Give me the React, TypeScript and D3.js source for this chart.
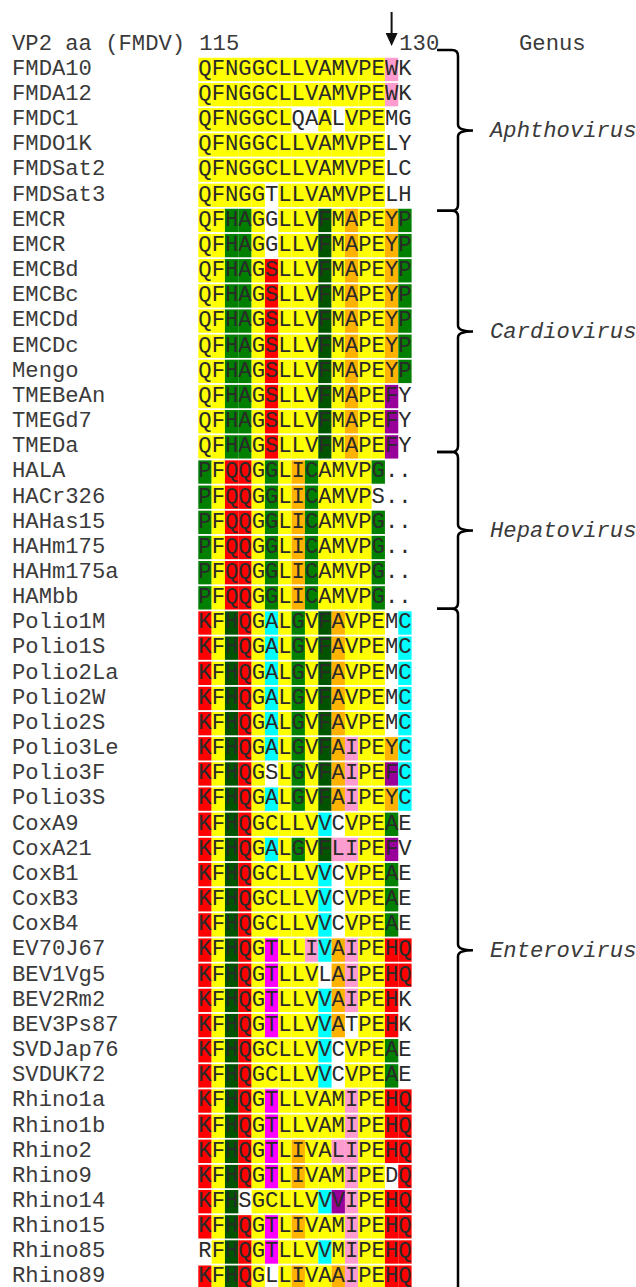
import { useEffect, useRef } from 'react';
import * as d3 from 'd3';

// strain names, top to bottom
const strains = [
  'FMDA10', 'FMDA12', 'FMDC1', 'FMDO1K', 'FMDSat2', 'FMDSat3',
  'EMCR', 'EMCR', 'EMCBd', 'EMCBc', 'EMCDd', 'EMCDc', 'Mengo', 'TMEBeAn', 'TMEGd7', 'TMEDa',
  'HALA', 'HACr326', 'HAHas15', 'HAHm175', 'HAHm175a', 'HAMbb',
  'Polio1M', 'Polio1S', 'Polio2La', 'Polio2W', 'Polio2S', 'Polio3Le', 'Polio3F', 'Polio3S',
  'CoxA9', 'CoxA21', 'CoxB1', 'CoxB3', 'CoxB4',
  'EV70J67', 'BEV1Vg5', 'BEV2Rm2', 'BEV3Ps87', 'SVDJap76', 'SVDUK72',
  'Rhino1a', 'Rhino1b', 'Rhino2', 'Rhino9', 'Rhino14', 'Rhino15', 'Rhino85', 'Rhino89'
];

// VP2 residues 115-130
const sequences = [
  'QFNGGCLLVAMVPEWK', 'QFNGGCLLVAMVPEWK', 'QFNGGCLQAALVPEMG', 'QFNGGCLLVAMVPELY', 'QFNGGCLLVAMVPELC', 'QFNGGTLLVAMVPELH',
  'QFHAGGLLVFMAPEYP', 'QFHAGGLLVFMAPEYP', 'QFHAGSLLVFMAPEYP', 'QFHAGSLLVFMAPEYP', 'QFHAGSLLVFMAPEYP', 'QFHAGSLLVFMAPEYP',
  'QFHAGSLLVFMAPEYP', 'QFHAGSLLVFMAPEFY', 'QFHAGSLLVFMAPEFY', 'QFHAGSLLVFMAPEFY',
  'PFQQGGLICAMVPG..', 'PFQQGGLICAMVPS..', 'PFQQGGLICAMVPG..', 'PFQQGGLICAMVPG..', 'PFQQGGLICAMVPG..', 'PFQQGGLICAMVPG..',
  'KFHQGALGVFAVPEMC', 'KFHQGALGVFAVPEMC', 'KFHQGALGVFAVPEMC', 'KFHQGALGVFAVPEMC', 'KFHQGALGVFAVPEMC',
  'KFHQGALGVFAIPEYC', 'KFHQGSLGVFAIPEFC', 'KFHQGALGVFAIPEYC',
  'KFHQGCLLVVCVPEAE', 'KFHQGALGVFLIPEFV', 'KFHQGCLLVVCVPEAE', 'KFHQGCLLVVCVPEAE', 'KFHQGCLLVVCVPEAE',
  'KFHQGTLLIVAIPEHQ', 'KFHQGTLLVLAIPEHQ', 'KFHQGTLLVVAIPEHK', 'KFHQGTLLVVATPEHK', 'KFHQGCLLVVCVPEAE', 'KFHQGCLLVVCVPEAE',
  'KFHQGTLLVAMIPEHQ', 'KFHQGTLLVAMIPEHQ', 'KFHQGTLIVALIPEHQ', 'KFHQGTLIVAMIPEDQ', 'KFHSGCLLVVVIPEHQ',
  'KFHQGTLIVAMIPEHQ', 'RFHQGTLLVVMIPEHQ', 'KFHQGLLIVAAIPEHQ'
];

// shading code per residue (- = unshaded)
const shading = [
  'YYYYYYYYYYYYYYP-', 'YYYYYYYYYYYYYYP-', 'YYYYYYY--Y-YYY--', 'YYYYYYYYYYYYYY--', 'YYYYYYYYYYYYYY--', 'YYYYY-YYYYYYYY--',
  'YYggY-YYYdYOYYOg', 'YYggY-YYYdYOYYOg', 'YYggYRYYYdYOYYOg', 'YYggYRYYYdYOYYOg', 'YYggYRYYYdYOYYOg', 'YYggYRYYYdYOYYOg',
  'YYggYRYYYdYOYYOg', 'YYggYRYYYdYOYYV-', 'YYggYRYYYdYOYYV-', 'YYggYRYYYdYOYYV-',
  'gYRRYgYOgYYYYg--', 'gYRRYgYOgYYYY---', 'gYRRYgYOgYYYYg--', 'gYRRYgYOgYYYYg--', 'gYRRYgYOgYYYYg--', 'gYRRYgYOgYYYYg--',
  'RYdRYCYgYdOYYY-C', 'RYdRYCYgYdOYYY-C', 'RYdRYCYgYdOYYY-C', 'RYdRYCYgYdOYYY-C', 'RYdRYCYgYdOYYY-C',
  'RYdRYCYgYdOPYYOC', 'RYdRY-YgYdOPYYVC', 'RYdRYCYgYdOPYYOC',
  'RYdRYYYYYC-YYYg-', 'RYdRYCYgYdPPYYV-', 'RYdRYYYYYC-YYYg-', 'RYdRYYYYYC-YYYg-', 'RYdRYYYYYC-YYYg-',
  'RYdRYMYYPCOPYYRR', 'RYdRYMYYY-OPYYRR', 'RYdRYMYYYCOPYYR-', 'RYdRYMYYYCO-YYR-', 'RYdRYYYYYC-YYYg-', 'RYdRYYYYYC-YYYg-',
  'RYdRYMYYYYYPYYRR', 'RYdRYMYYYYYPYYRR', 'RYdRYMYOYYPPYYRR', 'RYdRYMYOYYYPYY-R', 'RYd-YYYYYCVPYYRR',
  'RYdRYMYOYYYPYYRR', '-YdRYMYYYCYPYYRR', 'RYdRY-YOYYOPYYRR'
];

const shadeColors: Record<string, string> = {
  Y: '#ffff00',
  g: '#007f00',
  d: '#005400',
  R: '#ff0000',
  O: '#ffb300',
  C: '#00ffff',
  P: '#ff9ccf',
  M: '#ff00ff',
  V: '#990099'
};

const genera = ['Aphthovirus', 'Cardiovirus', 'Hepatovirus', 'Enterovirus'];
// brace extent in row units
const genusSpans = [[-0.31, 6.08], [6.08, 15.67], [15.67, 21.9], [21.9, 49.05]];

const firstPosition = 115;
const positionTicks = [115, 130];
const markedPosition = 129;

const mono = "'Courier New', 'Liberation Mono', monospace";

export default function App() {
  const svgRef = useRef<SVGSVGElement>(null);

  useEffect(() => {
    if (!svgRef.current) return;
    const width = 636;
    const height = 1287;
    const svg = d3.select(svgRef.current);
    svg.selectAll('*').remove();
    svg.attr('width', width).attr('height', height);

    const nCols = sequences[0].length;
    const x = d3.scaleLinear().domain([0, nCols]).range([198.3, 411.6]);
    const y = d3.scaleLinear().domain([0, strains.length]).range([57.8, 57.8 + strains.length * 25.16]);
    const colW = x(1) - x(0);
    const cellH = y(1) - y(0) - 1.8;
    const baselineOffset = 17;

    // Shaded cells
    const cells = shading.flatMap((codes, r) =>
      codes.split('').map((code, c) => ({ r, c, code }))
    ).filter(d => d.code !== '-');

    svg.append('g')
      .selectAll('rect')
      .data(cells)
      .enter().append('rect')
      .attr('x', d => x(d.c))
      .attr('y', d => y(d.r))
      .attr('width', colW)
      .attr('height', cellH)
      .attr('fill', d => shadeColors[d.code]);

    // Residues
    const residues = sequences.flatMap((seq, r) =>
      seq.split('').map((aa, c) => ({ r, c, aa }))
    );

    svg.append('g')
      .style('font-family', mono)
      .style('font-size', '22.2px')
      .style('fill', '#2a2a2a')
      .selectAll('text')
      .data(residues)
      .enter().append('text')
      .attr('x', d => x(d.c + 0.5))
      .attr('y', d => y(d.r) + baselineOffset)
      .attr('text-anchor', 'middle')
      .text(d => d.aa);

    // Strain labels
    svg.append('g')
      .style('font-family', mono)
      .style('font-size', '22.2px')
      .style('fill', '#3a3a3a')
      .selectAll('text')
      .data(strains)
      .enter().append('text')
      .attr('x', 12)
      .attr('y', (_, i) => y(i) + baselineOffset)
      .text(d => d);

    // Header
    const header = svg.append('g')
      .style('font-family', mono)
      .style('font-size', '22.2px')
      .style('fill', '#3a3a3a');
    const headerY = 50;
    header.append('text').attr('x', 12).attr('y', headerY).text('VP2 aa (FMDV)');
    header.selectAll('text.tick')
      .data(positionTicks)
      .enter().append('text')
      .attr('class', 'tick')
      .attr('x', d => x(d - firstPosition) + 1)
      .attr('y', headerY)
      .text(d => String(d));
    header.append('text').attr('x', 519).attr('y', headerY).text('Genus');

    // Arrow over marked residue
    const ax = x(markedPosition - firstPosition + 0.5);
    svg.append('line')
      .attr('x1', ax).attr('x2', ax)
      .attr('y1', 12).attr('y2', 36)
      .attr('stroke', '#111')
      .attr('stroke-width', 2);
    svg.append('path')
      .attr('d', `M${ax - 6},33 L${ax + 6},33 L${ax},46 Z`)
      .attr('fill', '#111');

    // Braces and genus names
    const xl = 437;
    const xv = 458;
    const xt = 473;
    const rad = 6;
    genera.forEach((genus, i) => {
      const t = y(genusSpans[i][0]);
      const b = y(genusSpans[i][1]);
      const m = (t + b) / 2;
      const path = `M${xl},${t} L${xv - rad},${t} Q${xv},${t} ${xv},${t + rad}` +
        ` L${xv},${m - rad} Q${xv},${m} ${xt},${m} Q${xv},${m} ${xv},${m + rad}` +
        ` L${xv},${b - rad} Q${xv},${b} ${xv - rad},${b} L${xl},${b}`;
      svg.append('path')
        .attr('d', path)
        .attr('fill', 'none')
        .attr('stroke', '#000')
        .attr('stroke-width', 2.5);

      svg.append('text')
        .attr('x', 490)
        .attr('y', m + 7)
        .style('font-family', mono)
        .style('font-size', '22.2px')
        .style('font-style', 'italic')
        .style('fill', '#3a3a3a')
        .text(genus);
    });
  }, []);

  return (
    <div style={{ position: 'absolute', left: 0, top: 0 }}>
      <svg ref={svgRef}></svg>
    </div>
  );
}
